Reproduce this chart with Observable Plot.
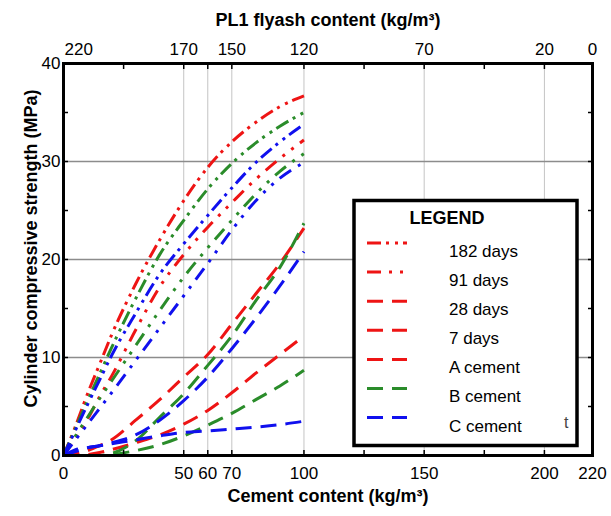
<!DOCTYPE html>
<html><head><meta charset="utf-8">
<script src="https://cdn.jsdelivr.net/npm/d3@7"></script>
<script src="https://cdn.jsdelivr.net/npm/@observablehq/plot@0.6"></script>
<style>
body{margin:0;background:#fff;}
#wrap{position:relative;width:611px;height:516px;font-family:"Liberation Sans",Arial,sans-serif;}
#wrap svg{display:block;}
#legend{position:absolute;left:0;top:0;pointer-events:none;}
</style></head><body><div id="wrap"></div>
<script>
// ---- data ----
const cement = [0, 5, 10, 15, 20, 30, 40, 50, 60, 70, 80, 90, 100];
// cement A (red)
const a182 = [0, 3.0, 6.3, 9.3, 12.3, 17.5, 22.0, 26.0, 29.4, 32.0, 34.0, 35.6, 36.7];
const a91  = [0, 1.8, 3.7, 6.0, 8.1, 12.8, 17.2, 20.5, 23.3, 25.8, 28.2, 30.3, 32.2];
const a28  = [0, 0.2, 0.5, 1.0, 1.6, 3.6, 5.7, 8.0, 10.3, 13.4, 16.5, 19.6, 23.2];
const a7   = [0, 0.0, 0.1, 0.3, 0.6, 1.3, 2.1, 3.2, 4.6, 6.4, 8.4, 10.3, 12.2];
// cement B (green)
const b182 = [0, 2.8, 5.6, 8.3, 11.0, 16.0, 20.5, 24.0, 27.2, 29.8, 31.9, 33.6, 35.0];
const b91  = [0, 2.0, 3.9, 5.8, 7.6, 11.2, 14.8, 18.2, 21.2, 24.0, 26.7, 29.0, 30.8];
const b28  = [0, 0.0, 0.0, 0.0, 0.2, 1.5, 3.9, 6.3, 9.2, 12.2, 15.8, 19.2, 23.7];
const b7   = [0, 0.0, 0.0, 0.0, 0.1, 0.5, 1.1, 2.0, 3.1, 4.3, 5.7, 7.1, 8.7];
// cement C (blue)
const c182 = [0, 2.6, 5.2, 7.7, 10.2, 14.5, 18.5, 21.6, 24.5, 27.3, 29.9, 32.0, 33.8];
const c91  = [0, 1.6, 3.2, 4.8, 6.4, 9.7, 13.0, 16.3, 19.6, 23.0, 26.0, 28.3, 29.9];
const c28  = [0, 0.4, 0.8, 1.0, 1.3, 2.1, 3.6, 5.6, 8.0, 10.9, 14.0, 17.3, 20.8];
const c7   = [0, 0.6, 0.8, 1.0, 1.2, 1.6, 2.0, 2.35, 2.5, 2.7, 2.9, 3.15, 3.5];

const cements = ["A cement", "B cement", "C cement"];
const ages = ["182 days", "91 days", "28 days", "7 days"];
const seriesValues = [[a182, a91, a28, a7], [b182, b91, b28, b7], [c182, c91, c28, c7]];

// axis ticks / labels
const xTickMarks = [25, 50, 60, 70, 100, 125, 150, 175, 200];
const xBottomLabels = [0, 50, 60, 70, 100, 150, 200, 220];
const xTopPositions = [50, 70, 100, 150, 200, 220];
const xTopLabels = ["170", "150", "120", "70", "20", "0"];
const xTopFirstPosition = [0];
const xTopFirstLabel = ["220"];
const xGrid = [50, 60, 70, 100, 150, 200];
const yTickMarks = [5, 10, 15, 20, 25, 30, 35];
const yLabels = [0, 10, 20, 30, 40];
const yGrid = [10, 20, 30];

// ---- styles ----
const colorOf = {"A cement": "#ee1414", "B cement": "#2a8c2a", "C cement": "#1010ee"};
const dashOf = {"182 days": "14,5,3,6,3,5", "91 days": "14,8,3,8,3,8", "28 days": "16,9", "7 days": "16,9"};

const rows = [];
cements.forEach((c, ci) => ages.forEach((a, ai) => {
  seriesValues[ci][ai].forEach((v, k) => rows.push({cement: cement[k], strength: v, type: c, age: a}));
}));

const font = "'Liberation Sans', Arial, sans-serif";
const lineMarks = [];
cements.forEach(c => ages.forEach(a => {
  lineMarks.push(Plot.line(rows.filter(r => r.type === c && r.age === a), {
    x: "cement", y: "strength", stroke: colorOf[c], strokeWidth: 3,
    strokeDasharray: dashOf[a], strokeLinecap: "butt", curve: "monotone-x"
  }));
}));

const chart = Plot.plot({
  width: 611, height: 516,
  marginLeft: 63, marginRight: 19, marginTop: 63, marginBottom: 61,
  style: {fontFamily: font, fontSize: "17px", color: "#000", background: "#fff"},
  x: {domain: [0, 220], axis: null},
  y: {domain: [0, 40], axis: null},
  marks: [
    Plot.gridX(xGrid, {stroke: "#c4c4c4", strokeOpacity: 1, strokeWidth: 1}),
    Plot.gridY(yGrid, {stroke: "#8c8c8c", strokeOpacity: 1, strokeWidth: 1.3}),
    ...lineMarks,
    Plot.axisX(xTickMarks, {anchor: "bottom", tickSize: -5, tickFormat: () => "", strokeWidth: 1.5, label: null}),
    Plot.axisX(xTickMarks, {anchor: "top", tickSize: -5, tickFormat: () => "", strokeWidth: 1.5, label: null}),
    Plot.axisY(yTickMarks, {anchor: "left", tickSize: -5, tickFormat: () => "", strokeWidth: 1.5, label: null}),
    Plot.axisY(yTickMarks, {anchor: "right", tickSize: -5, tickFormat: () => "", strokeWidth: 1.5, label: null}),
    Plot.axisX(xBottomLabels, {anchor: "bottom", tickSize: 0, tickPadding: 11, fontSize: 17, label: null}),
    Plot.axisX(xTopPositions, {anchor: "top", tickSize: 0, tickPadding: 9, fontSize: 17, label: null,
      tickFormat: d => xTopLabels[xTopPositions.indexOf(d)]}),
    Plot.axisX(xTopFirstPosition, {anchor: "top", tickSize: 0, tickPadding: 9, fontSize: 17, label: null,
      textAnchor: "start", dx: 1, tickFormat: d => xTopFirstLabel[xTopFirstPosition.indexOf(d)]}),
    Plot.axisY(yLabels, {anchor: "left", tickSize: 0, tickPadding: 3, fontSize: 17, label: null}),
    Plot.frame({stroke: "#000", strokeWidth: 3}),
    Plot.text(["Cement content (kg/m³)"], {frameAnchor: "bottom", dy: 46, fontWeight: "bold", fontSize: 18}),
    Plot.text(["PL1 flyash content (kg/m³)"], {frameAnchor: "top", dy: -50, fontWeight: "bold", fontSize: 18}),
    Plot.text(["Cylinder compressive strength (MPa)"], {frameAnchor: "left", textAnchor: "middle", rotate: -90, dx: -32, dy: -11, fontWeight: "bold", fontSize: 18})
  ]
});
const wrap = document.getElementById("wrap");
wrap.appendChild(chart);

// ---- legend ----
const legendItems = [
  {label: "182 days", color: colorOf["A cement"], dash: dashOf["182 days"]},
  {label: "91 days", color: colorOf["A cement"], dash: dashOf["91 days"]},
  {label: "28 days", color: colorOf["A cement"], dash: dashOf["28 days"]},
  {label: "7 days", color: colorOf["A cement"], dash: dashOf["7 days"]},
  {label: "A cement", color: colorOf["A cement"], dash: dashOf["28 days"]},
  {label: "B cement", color: colorOf["B cement"], dash: dashOf["28 days"]},
  {label: "C cement", color: colorOf["C cement"], dash: dashOf["28 days"]}
];
const lg = d3.select(wrap).append("svg").attr("id", "legend").attr("width", 611).attr("height", 516)
  .style("font-family", font);
lg.append("rect").attr("x", 354).attr("y", 200.5).attr("width", 223).attr("height", 245)
  .attr("fill", "#fff").attr("stroke", "#000").attr("stroke-width", 3.5);
lg.append("text").attr("x", 447).attr("y", 218).attr("dy", "0.35em").attr("text-anchor", "middle")
  .attr("font-weight", "bold").attr("font-size", 18).text("LEGEND");
const rowY0 = 251, rowStep = 29.1;
legendItems.forEach((it, i) => {
  const ty = rowY0 + i * rowStep;
  lg.append("line").attr("x1", 367).attr("x2", 407).attr("y1", ty - 8).attr("y2", ty - 8)
    .attr("stroke", it.color).attr("stroke-width", 3).attr("stroke-dasharray", it.dash);
  lg.append("text").attr("x", 449).attr("y", ty).attr("dy", "0.35em").attr("font-size", 17).text(it.label);
});
lg.append("text").attr("x", 564).attr("y", 422).attr("dy", "0.35em").attr("font-size", 16).attr("fill", "#444").text("t");
</script></body></html>
